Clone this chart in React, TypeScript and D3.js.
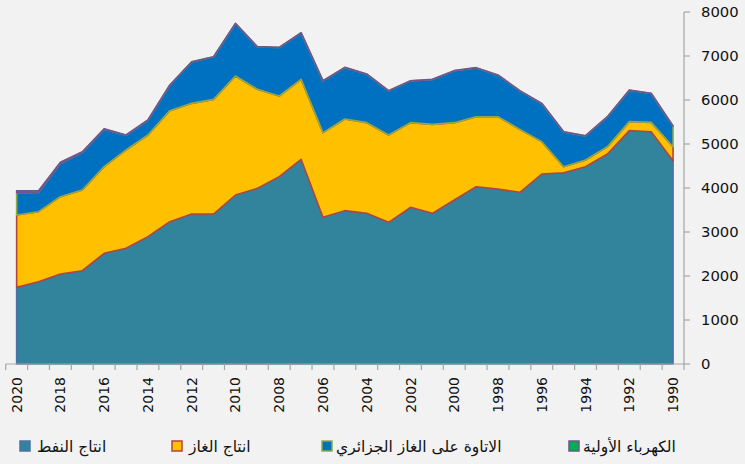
import React from "react";
import * as d3 from "d3";

const years = [2020, 2019, 2018, 2017, 2016, 2015, 2014, 2013, 2012, 2011, 2010, 2009, 2008, 2007, 2006, 2005, 2004, 2003, 2002, 2001, 2000, 1999, 1998, 1997, 1996, 1995, 1994, 1993, 1992, 1991, 1990];
const oil = [1742, 1871, 2045, 2121, 2515, 2629, 2894, 3235, 3409, 3409, 3841, 3992, 4258, 4652, 3333, 3485, 3424, 3220, 3561, 3424, 3727, 4030, 3977, 3902, 4318, 4348, 4485, 4773, 5303, 5280, 4621];
const gas = [1644, 1591, 1758, 1834, 1970, 2235, 2311, 2523, 2515, 2606, 2704, 2251, 1833, 1818, 1925, 2083, 2061, 1985, 1924, 2023, 1758, 1591, 1644, 1431, 735, 137, 151, 166, 205, 212, 318];
const royalty = [508, 437, 751, 850, 853, 335, 335, 578, 942, 966, 1193, 965, 1102, 1056, 1177, 1170, 1102, 1003, 950, 1019, 1178, 1110, 943, 875, 867, 791, 549, 678, 715, 656, 466];
const electricity = [45, 40, 30, 20, 10, 6, 5, 5, 5, 4, 4, 4, 4, 4, 4, 4, 4, 4, 4, 4, 4, 4, 4, 4, 4, 4, 4, 4, 4, 4, 4];

const seriesNames = ["انتاج النفط", "انتاج الغاز", "الاتاوة على الغاز الجزائري", "الكهرباء الأولية"];
const fills = ["#31849B", "#FFC000", "#0070C0", "#00B050"];
const strokes = ["#4F6FA8", "#B0453F", "#8FA84E", "#6E5690"];
const yTicks = [0, 1000, 2000, 3000, 4000, 5000, 6000, 7000, 8000];

const W = 745;
const H = 464;
const left = 5.7;
const right = 684;
const top = 12;
const bottom = 364;

export default function App() {
  const table = years.map((y, i) => ({
    year: y,
    oil: oil[i],
    gas: gas[i],
    royalty: royalty[i],
    electricity: electricity[i],
  }));
  const keys = ["oil", "gas", "royalty", "electricity"];
  const stacked = d3.stack<any>().keys(keys)(table);

  const x = d3.scaleBand<number>().domain(years).range([left, right]).paddingInner(0).paddingOuter(0);
  const cx = (yr: number) => (x(yr) as number) + x.bandwidth() / 2;
  const y = d3.scaleLinear().domain([0, 8000]).range([bottom, top]);

  const area = d3
    .area<any>()
    .x((d) => cx(d.data.year))
    .y0((d) => y(d[0]))
    .y1((d) => y(d[1]));

  const font = "'DejaVu Sans', sans-serif";
  const axisColor = "#A6A6A6";

  const bandEdges = years.map((yr) => x(yr) as number).concat([right]);

  const legendItems = [
    { sx: 20, tx: 37 },
    { sx: 172, tx: 189 },
    { sx: 322, tx: 336 },
    { sx: 569, tx: 583 },
  ];

  return (
    <svg
      width={W}
      height={H}
      style={{ position: "absolute", left: 0, top: 0, display: "block" }}
    >
      <rect x={0} y={0} width={W} height={H} fill="#F2F2F2" />
      {stacked.map((s, i) => {
        const d = area(s as any);
        return (
          <path
            key={i}
            d={d as string}
            fill={fills[i]}
            stroke={strokes[i]}
            strokeWidth={1.6}
            strokeLinejoin="round"
          />
        );
      })}
      <line x1={right} x2={right} y1={top} y2={bottom} stroke={axisColor} strokeWidth={1.2} />
      {yTicks.map((t) => (
        <g key={t}>
          <line x1={right} x2={right + 6} y1={y(t)} y2={y(t)} stroke={axisColor} strokeWidth={1.2} />
          <text
            x={701}
            y={y(t)}
            dy="0.36em"
            fontFamily={font}
            fontSize={14.8}
            fill="#111"
          >
            {t}
          </text>
        </g>
      ))}
      <line x1={left} x2={right} y1={bottom} y2={bottom} stroke={axisColor} strokeWidth={1.2} />
      {bandEdges.map((e, i) => (
        <line key={i} x1={e} x2={e} y1={bottom} y2={bottom + 6} stroke={axisColor} strokeWidth={1.2} />
      ))}
      {years
        .filter((yr) => yr % 2 === 0)
        .map((yr) => (
          <text
            key={yr}
            transform={`translate(${cx(yr)},${377}) rotate(-90)`}
            textAnchor="end"
            dy="0.36em"
            fontFamily={font}
            fontSize={14}
            fill="#111"
          >
            {yr}
          </text>
        ))}
      {legendItems.map((it, i) => (
        <g key={i}>
          <rect
            x={it.sx}
            y={441}
            width={10}
            height={10}
            fill={fills[i]}
            stroke={strokes[i]}
            strokeWidth={1.5}
          />
          <text
            x={it.tx}
            y={446}
            dy="0.36em"
            fontFamily={font}
            fontSize={15.5}
            fill="#111"
            textAnchor="start"
          >
            {seriesNames[i]}
          </text>
        </g>
      ))}
    </svg>
  );
}
